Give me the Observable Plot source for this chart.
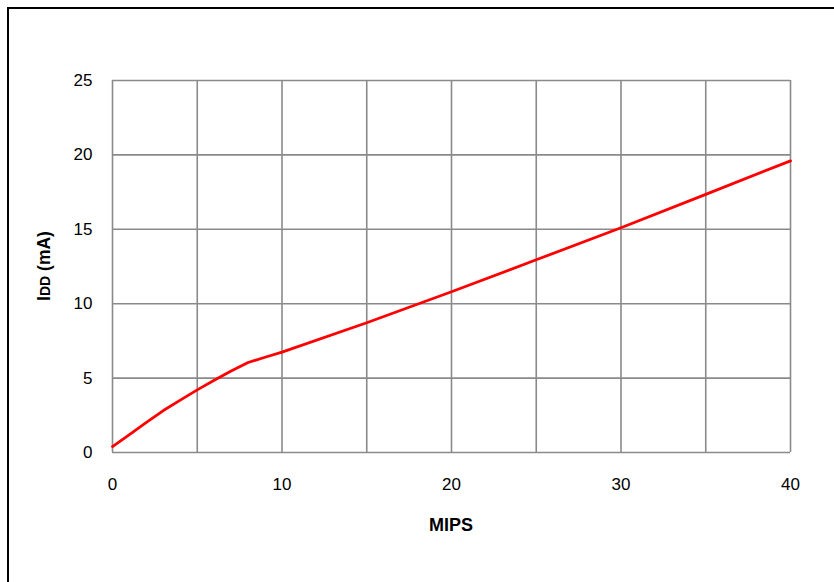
<!DOCTYPE html>
<html>
<head>
<meta charset="utf-8">
<script src="https://cdn.jsdelivr.net/npm/d3@7"></script>
<script src="https://cdn.jsdelivr.net/npm/@observablehq/plot@0.6"></script>
<style>
  html, body { margin: 0; padding: 0; background: #fff; overflow: hidden; }
  #wrap { position: relative; width: 834px; height: 582px; }
  #frame { position: absolute; left: 7px; top: 7px; width: 900px; height: 700px;
           border-left: 2.5px solid #000; border-top: 2.5px solid #000; pointer-events: none; }
  svg { font-family: "Liberation Sans", Arial, sans-serif; }
</style>
</head>
<body>
<div id="wrap"><div id="frame"></div></div>
<script>
const mips = [0, 1, 2, 3, 4, 5, 6, 7, 8, 9, 10, 15, 20, 25, 30, 35, 40];
const idd  = [0.4, 1.2, 2.02, 2.82, 3.52, 4.21, 4.85, 5.48, 6.05, 6.4, 6.75, 8.72, 10.8, 12.95, 15.1, 17.35, 19.6];
const xTicks = [0, 10, 20, 30, 40];
const yTicks = [0, 5, 10, 15, 20, 25];
const xGrid = [0, 5, 10, 15, 20, 25, 30, 35, 40];
const yGrid = [0, 5, 10, 15, 20, 25];
const xLabel = "MIPS";
const yLabelMain = "I";
const yLabelSub = "DD";
const yLabelRest = " (mA)";

const data = mips.map((m, i) => ({mips: m, idd: idd[i]}));
const W = 834, H = 582;
const mL = 112, mR = 44, mT = 80, mB = 130;

const chart = Plot.plot({
  width: W, height: H,
  marginLeft: mL, marginRight: mR, marginTop: mT, marginBottom: mB,
  style: {fontFamily: '"Liberation Sans", Arial, sans-serif', fontSize: "17px", background: "transparent", overflow: "visible"},
  x: {domain: [0, 40], ticks: xTicks, tickSize: 0, tickPadding: 25, label: null},
  y: {domain: [0, 25], ticks: yTicks, tickSize: 0, tickPadding: 20, label: null},
  marks: [
    Plot.ruleX(xGrid, {stroke: "#8a8a8a", strokeWidth: 1.6}),
    Plot.ruleY(yGrid, {stroke: "#8a8a8a", strokeWidth: 1.6}),
    Plot.line(data, {x: "mips", y: "idd", stroke: "#ff0000", strokeWidth: 2.8, curve: "linear", strokeLinejoin: "round"})
  ]
});
chart.style.position = "absolute";
chart.style.left = "0px";
chart.style.top = "0px";
document.getElementById("wrap").appendChild(chart);

const svg = d3.select(chart);
svg.append("text")
  .attr("x", mL + (W - mL - mR) / 2)
  .attr("y", H - mB + 79)
  .attr("text-anchor", "middle")
  .attr("font-weight", "bold")
  .attr("font-size", 18)
  .attr("fill", "#000")
  .text(xLabel);
const yl = svg.append("text")
  .attr("transform", `translate(50,${mT + (H - mT - mB) / 2}) rotate(-90)`)
  .attr("text-anchor", "middle")
  .attr("font-weight", "bold")
  .attr("font-size", 17.5)
  .attr("fill", "#000");
yl.append("tspan").text(yLabelMain);
yl.append("tspan").attr("font-size", 14).text(yLabelSub);
yl.append("tspan").text(yLabelRest);
</script>
</body>
</html>
